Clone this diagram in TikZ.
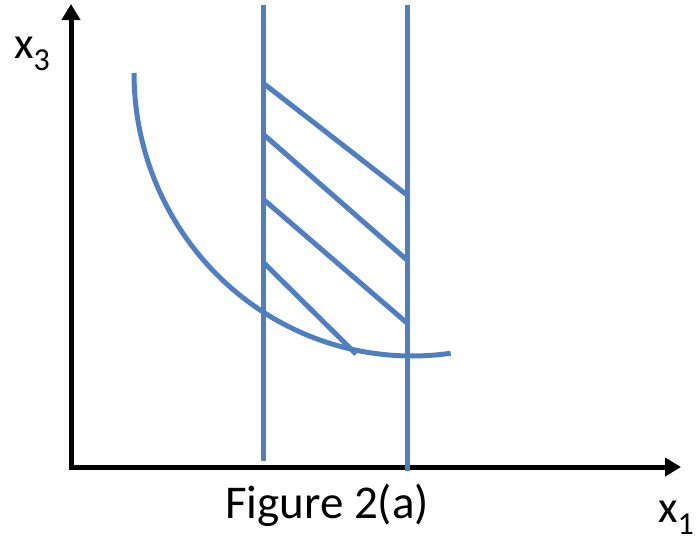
\documentclass[tikz,border=0pt]{standalone}
\usepackage{fontspec}
\setmainfont{Carlito}
\usetikzlibrary{arrows.meta}
\definecolor{curveblue}{RGB}{79,127,192}
\newcommand{\mysub}[1]{\raisebox{-12pt}{\fontsize{32}{38}\selectfont #1}}
\begin{document}
\begin{tikzpicture}[x=1pt,y=-1pt,
  axis/.style={line width=5pt,-{Triangle[length=16pt,width=18pt]}},
  blue line/.style={line width=5pt,curveblue},
  lbl/.style={inner sep=0pt,font=\fontsize{45}{54}\selectfont}]
\useasboundingbox (0,0) rectangle (697,541);
% axes
\coordinate (O) at (71,467);
\coordinate (Ytip) at (71,4);
\coordinate (Xtip) at (681,467);
\draw[axis] (68.5,467) -- (Xtip);
\draw[axis] (71,469.5) -- (Ytip);
% vertical blue lines
\coordinate (L1t) at (263,5);
\coordinate (L1b) at (263,461);
\coordinate (L2t) at (407,5);
\coordinate (L2b) at (407,471);
\draw[blue line] (L1t) -- (L1b);
\draw[blue line] (L2t) -- (L2b);
% hatch lines
\coordinate (h1a) at (263,83);  \coordinate (h1b) at (407,195);
\coordinate (h2a) at (263,134); \coordinate (h2b) at (407,260);
\coordinate (h3a) at (263,199); \coordinate (h3b) at (407,323);
\coordinate (h4a) at (263,262); \coordinate (h4b) at (356,354);
\draw[blue line] (h1a) -- (h1b);
\draw[blue line] (h2a) -- (h2b);
\draw[blue line] (h3a) -- (h3b);
\draw[blue line] (h4a) -- (h4b);
% curve (elliptic arc)
\coordinate (Cs) at (134,73);
\draw[blue line] (Cs) arc[start angle=180,end angle=82,x radius=278,y radius=283];
% labels
\node[lbl,anchor=base west] (x3) at (14,58) {x\mysub{3}};
\node[lbl,anchor=base west] (x1) at (658,522) {x\mysub{1}};
\node[lbl,anchor=base] (cap) at (327,518) {\fontsize{47}{56}\selectfont Figure 2(a)};
\end{tikzpicture}
\end{document}
